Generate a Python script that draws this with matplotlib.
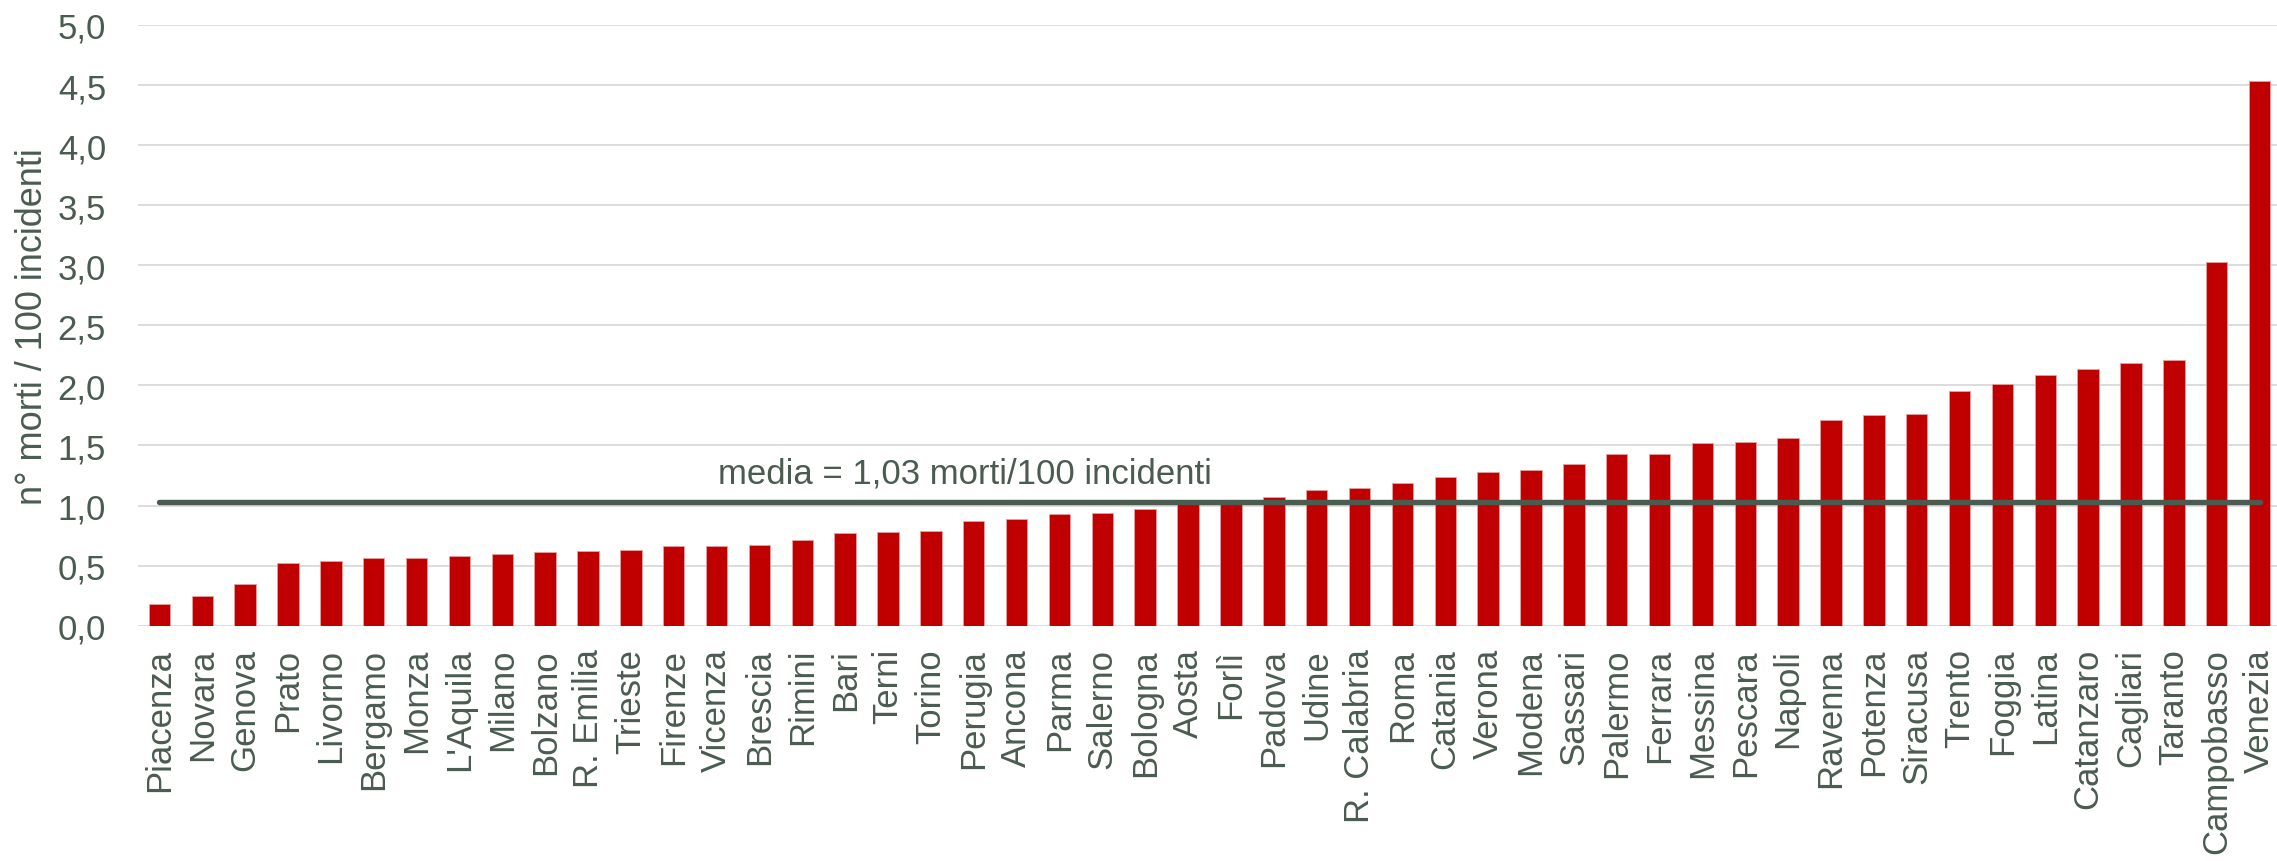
import numpy as np
import matplotlib
matplotlib.use("Agg")
import matplotlib.pyplot as plt

# data
cities = ["Piacenza", "Novara", "Genova", "Prato", "Livorno", "Bergamo", "Monza",
          "L'Aquila", "Milano", "Bolzano", "R. Emilia", "Trieste", "Firenze",
          "Vicenza", "Brescia", "Rimini", "Bari", "Terni", "Torino", "Perugia",
          "Ancona", "Parma", "Salerno", "Bologna", "Aosta", "Forlì", "Padova",
          "Udine", "R. Calabria", "Roma", "Catania", "Verona", "Modena", "Sassari",
          "Palermo", "Ferrara", "Messina", "Pescara", "Napoli", "Ravenna",
          "Potenza", "Siracusa", "Trento", "Foggia", "Latina", "Catanzaro",
          "Cagliari", "Taranto", "Campobasso", "Venezia"]
deaths_per_100 = [0.18, 0.25, 0.35, 0.52, 0.54, 0.56, 0.56, 0.58, 0.60, 0.61,
                  0.62, 0.63, 0.66, 0.66, 0.67, 0.71, 0.77, 0.78, 0.79, 0.87,
                  0.89, 0.93, 0.94, 0.97, 1.03, 1.04, 1.07, 1.13, 1.15, 1.19,
                  1.24, 1.28, 1.30, 1.35, 1.43, 1.43, 1.52, 1.53, 1.56, 1.71,
                  1.75, 1.76, 1.95, 2.01, 2.09, 2.14, 2.19, 2.21, 3.03, 4.53]
media = 1.03
y_ticks = [0.0, 0.5, 1.0, 1.5, 2.0, 2.5, 3.0, 3.5, 4.0, 4.5, 5.0]

text_col = "#4a5b50"
plt.rcParams['font.family'] = ['Liberation Sans', 'DejaVu Sans']
plt.rcParams['font.size'] = 25

fig = plt.figure(figsize=(22.77, 8.62), dpi=100)
ax = fig.add_axes([138/2277, 1 - 626.7/862, (2281 - 138)/2277, (626.7 - 26)/862])

x = np.arange(len(cities))
ax.bar(x, deaths_per_100, width=0.5, color="#c00000", edgecolor="#e8a0a0",
       linewidth=0.6, zorder=2)
ax.plot([x[0], x[-1]], [media, media], color=text_col, linewidth=3.9,
        solid_capstyle='round', zorder=3)
ax.text(18.8, 1.195, "media = 1,03 morti/100 incidenti", ha='center',
        va='baseline', color=text_col, fontsize=25)

ax.set_xlim(-0.5, len(cities) - 0.5)
ax.set_ylim(0, 5)
ax.set_yticks(y_ticks)
ax.set_yticklabels([f"{v:.1f}".replace(".", ",") for v in y_ticks])
ax.set_xticks(x)
ax.set_xticklabels(cities, rotation=90)
ax.tick_params(axis='both', length=0, colors=text_col, labelsize=25)
ax.tick_params(axis='y', pad=23)
ax.tick_params(axis='x', pad=16)
ax.yaxis.grid(True, color="#d9d9d9", linewidth=1.3, zorder=0)
ax.set_axisbelow(True)
for s in ax.spines.values():
    s.set_visible(False)

ax.set_ylabel("n° morti / 100 incidenti", color=text_col, fontsize=26)
ax.yaxis.set_label_coords((50 - 138)/2143, 0.5)

fig.savefig("out.png", dpi=100)
